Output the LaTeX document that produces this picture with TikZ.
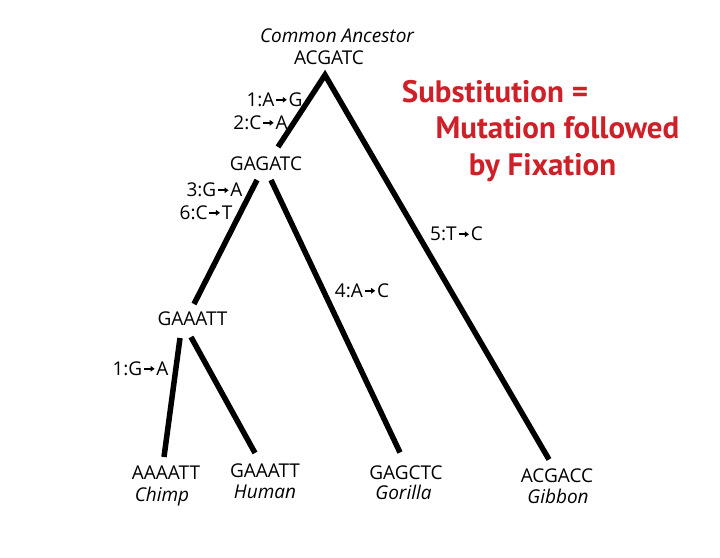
\documentclass[tikz,border=0pt]{standalone}
\usepackage{fontspec}
\setmainfont{Open Sans}
\newfontfamily\claimfont{PT Sans}
\usetikzlibrary{arrows.meta}
\definecolor{subred}{RGB}{206,32,40}
\newcommand{\mto}{\kern1pt\tikz[baseline]\draw[line width=1.7pt,-{Triangle[length=4pt,width=5.5pt]}] (0pt,0.34em) -- (0.55em,0.34em);\kern1pt}

\begin{document}
\begin{tikzpicture}[x=1pt,y=-1pt,
    seq/.style={inner sep=0pt,font=\fontsize{19}{22}\selectfont},
    taxon/.style={anchor=base,inner sep=0pt,font=\fontsize{19}{22}\selectfont\itshape},
    mut/.style={inner sep=0pt,font=\fontsize{19}{22}\selectfont},
    branch/.style={line width=5.5pt,line join=miter},
    claim/.style={anchor=base,inner sep=0pt,text=subred,font=\claimfont\fontsize{31}{36}\selectfont\bfseries}]
    \useasboundingbox[fill=white] (0,0) rectangle (720,557);

    % sequences
    \node[taxon] (anc) at (337,42) {Common Ancestor};
    \node[seq] (acgatc) at (329,58) {ACGATC};
    \node[seq] (gagatc) at (266,164) {GAGATC};
    \node[seq] (gaaatt) at (192.5,319) {GAAATT};
    \node[seq] (chimpseq) at (166,473) {AAAATT};
    \node[seq] (humanseq) at (265,470.5) {GAAATT};
    \node[seq] (gorillaseq) at (406,472.5) {GAGCTC};
    \node[seq] (gibbonseq) at (557,475.5) {ACGACC};

    % species
    \node[taxon] (chimp) at (162,501.5) {Chimp};
    \node[taxon] (human) at (265,498) {Human};
    \node[taxon] (gorilla) at (403.5,499) {Gorilla};
    \node[taxon] (gibbon) at (558,503) {Gibbon};

    % branches
    \draw[branch] ([shift={(12,-17)}]gagatc.center) -- ([shift={(-4,17)}]acgatc.center)
        -- ([shift={(-8,-16)}]gibbonseq.center);
    \draw[branch] ([shift={(-9,16)}]gagatc.center) -- ([shift={(1.5,-15)}]gaaatt.center);
    \draw[branch] ([shift={(5,16)}]gagatc.center) -- ([shift={(-6,-20)}]gorillaseq.center);
    \draw[branch] ([shift={(-12.5,19)}]gaaatt.center) -- ([shift={(-2,-16)}]chimpseq.center);
    \draw[branch] ([shift={(-1.5,18)}]gaaatt.center) -- ([shift={(-10,-17.5)}]humanseq.center);

    % mutations
    \node[mut] (m1) at (274.5,99.5) {1:A\mto G};
    \node[mut] (m2) at (260.5,122.5) {2:C\mto A};
    \node[mut] (m3) at (214.5,190) {3:G\mto A};
    \node[mut] (m6) at (206,212.5) {6:C\mto T};
    \node[mut] (m5) at (456.5,234) {5:T\mto C};
    \node[mut] (m4) at (362,290.5) {4:A\mto C};
    \node[mut] (m7) at (140.5,368.5) {1:G\mto A};

    % claim
    \node[claim] (sub) at (495,102) {Substitution =};
    \node[claim] (mutf) at (557.5,138) {Mutation followed};
    \node[claim] (fix) at (542.5,175) {by Fixation};
\end{tikzpicture}
\end{document}
